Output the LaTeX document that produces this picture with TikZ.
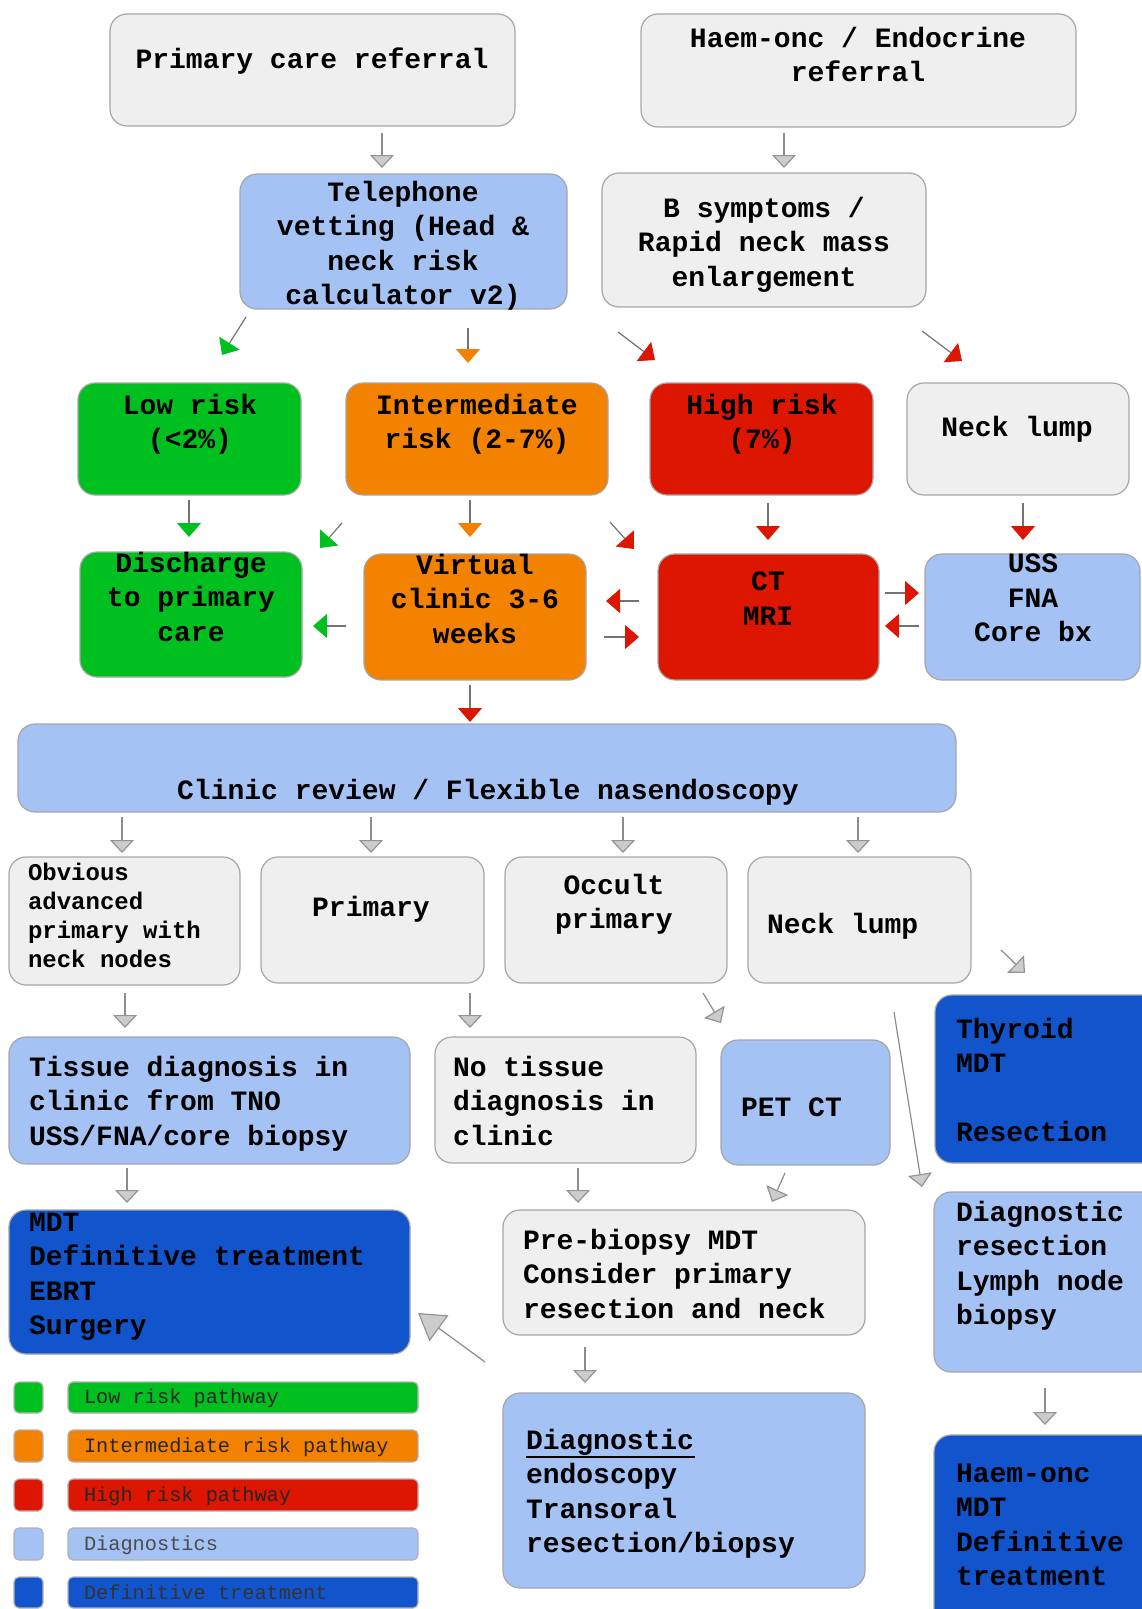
\documentclass[tikz,border=0pt]{standalone}
\usepackage{fontspec}
\setmainfont{Liberation Mono}
\usetikzlibrary{arrows.meta,calc}
\definecolor{cgray}{HTML}{EFEFEF}
\definecolor{cblue}{HTML}{A4C2F4}
\definecolor{cgreen}{HTML}{00C020}
\definecolor{corange}{HTML}{F38200}
\definecolor{cred}{HTML}{DC1600}
\definecolor{cdark}{HTML}{1254CC}
\newcommand\mkbox[6]{\node[bx,#1,minimum width={(#5)-(#3)},minimum height={(#6)-(#4)}] (#2) at ({(#3+#5)/2},{(#4+#6)/2}) {};}
\tikzset{
 bx/.style={draw=black!35, line width=1.2pt, rounded corners=17pt, inner sep=0pt, outer sep=0pt},
 lg/.style={draw=black!30, line width=1.2pt, rounded corners=5pt, inner sep=0pt, outer sep=0pt},
 txt/.style={inner sep=0pt, outer sep=0pt, yshift=-6pt, font=\fontsize{28}{34.5}\selectfont\bfseries, execute at begin node=\strut},
 ctxt/.style={txt, anchor=north, align=center},
 ltxt/.style={txt, anchor=north west, align=left},
 stxt/.style={inner sep=0pt, outer sep=0pt, yshift=-4pt, anchor=north west, align=left, font=\fontsize{24}{29}\selectfont\bfseries, execute at begin node=\strut},
 legt/.style={inner sep=0pt, outer sep=0pt, yshift=-2pt, anchor=west, font=\fontsize{20.3}{24}\selectfont\mdseries, execute at begin node=\strut},
 ga/.style={draw=black!45, line width=1.2pt, -{Triangle[width=24pt,length=13pt,color=black!42,fill=black!20]}},
 gbig/.style={draw=black!45, line width=1.2pt, -{Triangle[width=32pt,length=26pt,color=black!42,fill=black!20]}},
 ra/.style={draw=black!55, line width=1.2pt, -{Triangle[width=24pt,length=14pt,color=cred]}},
 oa/.style={draw=black!55, line width=1.2pt, -{Triangle[width=24pt,length=14pt,color=corange]}},
 ea/.style={draw=black!55, line width=1.2pt, -{Triangle[width=24pt,length=14pt,color=cgreen]}},
}
\begin{document}
\begin{tikzpicture}[x=1pt,y=-1pt]
\useasboundingbox (0,0) rectangle (1142,1609);
\fill[white] (0,0) rectangle (1142,1609);
% boxes
\mkbox{fill=cgray}{pcr}{110}{14}{515}{126}
\mkbox{fill=cgray}{haem}{641}{14}{1076}{127}
\mkbox{fill=cblue}{tel}{240}{174}{567}{309}
\mkbox{fill=cgray}{bsym}{602}{173}{926}{307}
\mkbox{fill=cgreen}{low}{78}{383}{301}{495}
\mkbox{fill=corange}{int}{346}{383}{608}{495}
\mkbox{fill=cred}{high}{650}{383}{873}{495}
\mkbox{fill=cgray}{neckA}{907}{383}{1129}{495}
\mkbox{fill=cgreen}{dis}{80}{552}{302}{677}
\mkbox{fill=corange}{vir}{364}{554}{586}{680}
\mkbox{fill=cred}{ct}{658}{554}{879}{680}
\mkbox{fill=cblue}{uss}{925}{554}{1140}{680}
\mkbox{fill=cblue}{clin}{18}{724}{956}{812}
\mkbox{fill=cgray}{obv}{9}{857}{240}{985}
\mkbox{fill=cgray}{prim}{261}{857}{484}{983}
\mkbox{fill=cgray}{occ}{505}{857}{727}{983}
\mkbox{fill=cgray}{neckB}{748}{857}{971}{983}
\mkbox{fill=cdark}{thy}{935}{995}{1160}{1163}
\mkbox{fill=cblue}{tis}{9}{1037}{410}{1164}
\mkbox{fill=cgray}{notis}{435}{1037}{696}{1163}
\mkbox{fill=cblue}{pet}{721}{1040}{890}{1165}
\mkbox{fill=cdark}{mdt}{9}{1210}{410}{1354}
\mkbox{fill=cgray}{pre}{503}{1210}{865}{1335}
\mkbox{fill=cblue}{dres}{934}{1192}{1160}{1372}
\mkbox{fill=cblue}{dendo}{503}{1393}{865}{1588}
\mkbox{fill=cdark}{hmdt}{934}{1435}{1160}{1630}
% texts
\node[ctxt] (t-pcr) at (312,38) {Primary care referral};
\node[ctxt] (t-haem) at (858,21) {Haem-onc / Endocrine\\referral};
\node[ctxt] (t-tel) at (403,175) {Telephone\\vetting (Head \&\\neck risk\\calculator v2)};
\node[ctxt] (t-bsym) at (764,191) {B symptoms /\\Rapid neck mass\\enlargement};
\node[ctxt] (t-low) at (190,388) {Low risk\\(<2\%)};
\node[ctxt] (t-int) at (477,388) {Intermediate\\risk (2-7\%)};
\node[ctxt] (t-high) at (762,388) {High risk\\(7\%)};
\node[ctxt] (t-neckA) at (1017,406) {Neck lump};
\node[ctxt] (t-dis) at (191,546) {Discharge\\to primary\\care};
\node[ctxt] (t-vir) at (475,548) {Virtual\\clinic 3-6\\weeks};
\node[ctxt] (t-ct) at (768,566) {CT\\MRI};
\node[ctxt] (t-uss) at (1033,548) {USS\\FNA\\Core bx};
\node[ctxt] (t-clin) at (488,769) {Clinic review / Flexible nasendoscopy};
\node[stxt] (t-obv) at (28,859) {Obvious\\advanced\\primary with\\neck nodes};
\node[ctxt] (t-prim) at (371,886) {Primary};
\node[ctxt] (t-occ) at (614,868) {Occult\\primary};
\node[ltxt] (t-neckB) at (767,903) {Neck lump};
\node[ltxt] (t-thy) at (956,1012) {Thyroid\\MDT\\[34.5pt]Resection};
\node[ltxt] (t-tis) at (29,1050) {Tissue diagnosis in\\clinic from TNO\\USS/FNA/core biopsy};
\node[ltxt] (t-notis) at (453,1050) {No tissue\\diagnosis in\\clinic};
\node[ltxt] (t-pet) at (741,1086) {PET CT};
\node[ltxt] (t-mdt) at (29,1207) {MDT\\Definitive treatment\\EBRT\\Surgery};
\node[ltxt] (t-pre) at (523,1223) {Pre-biopsy MDT\\Consider primary\\resection and neck};
\node[ltxt] (t-dres) at (956,1195) {Diagnostic\\resection\\Lymph node\\biopsy};
\node[ltxt] (t-dendo) at (526,1423) {\rlap{\rule[-9pt]{169pt}{2.5pt}}Diagnostic\\endoscopy\\Transoral\\resection/biopsy};
\node[ltxt] (t-hmdt) at (956,1458) {Haem-onc\\MDT\\Definitive\\treatment};
% legend
\mkbox{lg,fill=cgreen}{sq1}{14}{1382}{43}{1413}
\mkbox{lg,fill=corange}{sq2}{14}{1430}{43}{1462}
\mkbox{lg,fill=cred}{sq3}{14}{1479}{43}{1511}
\mkbox{lg,fill=cblue}{sq4}{14}{1528}{43}{1560}
\mkbox{lg,fill=cdark}{sq5}{14}{1577}{43}{1608}
\mkbox{lg,fill=cgreen}{bar1}{68}{1382}{418}{1413}
\mkbox{lg,fill=corange}{bar2}{68}{1430}{418}{1462}
\mkbox{lg,fill=cred}{bar3}{68}{1479}{418}{1511}
\mkbox{lg,fill=cblue}{bar4}{68}{1528}{418}{1560}
\mkbox{lg,fill=cdark}{bar5}{68}{1577}{418}{1608}
\node[legt,text=black!85] (l1) at (84,1397) {Low risk pathway};
\node[legt,text=black!85] (l2) at (84,1446) {Intermediate risk pathway};
\node[legt,text=black!85] (l3) at (84,1495) {High risk pathway};
\node[legt,text=black!70] (l4) at (84,1544) {Diagnostics};
\node[legt,text=black!80] (l5) at (84,1593) {Definitive treatment};
% vertical arrows
\draw[ga, shorten <=7pt, shorten >=6pt] (pcr.south -| 382,0) -- (tel.north -| 382,0);
\draw[ga, shorten <=6pt, shorten >=5pt] (haem.south -| 784,0) -- (bsym.north -| 784,0);
\draw[oa, shorten <=19pt, shorten >=20pt] (tel.south -| 468,0) -- (int.north -| 468,0);
\draw[ea, shorten <=5pt, shorten >=15pt] (low.south -| 189,0) -- (dis.north -| 189,0);
\draw[oa, shorten <=5pt, shorten >=17pt] (int.south -| 470,0) -- (vir.north -| 470,0);
\draw[ra, shorten <=8pt, shorten >=14pt] (high.south -| 768,0) -- (ct.north -| 768,0);
\draw[ra, shorten <=8pt, shorten >=14pt] (neckA.south -| 1023,0) -- (uss.north -| 1023,0);
\draw[ra, shorten <=5pt, shorten >=2pt] (vir.south -| 470,0) -- (clin.north -| 470,0);
\draw[ga, shorten <=5pt, shorten >=4pt] (clin.south -| 122,0) -- (obv.north -| 122,0);
\draw[ga, shorten <=5pt, shorten >=4pt] (clin.south -| 371,0) -- (prim.north -| 371,0);
\draw[ga, shorten <=5pt, shorten >=4pt] (clin.south -| 623,0) -- (occ.north -| 623,0);
\draw[ga, shorten <=5pt, shorten >=4pt] (clin.south -| 858,0) -- (neckB.north -| 858,0);
\draw[ga, shorten <=8pt, shorten >=9pt] (obv.south -| 125,0) -- (tis.north -| 125,0);
\draw[ga, shorten <=10pt, shorten >=9pt] (prim.south -| 470,0) -- (notis.north -| 470,0);
\draw[ga, shorten <=4pt, shorten >=7pt] (tis.south -| 127,0) -- (mdt.north -| 127,0);
\draw[ga, shorten <=5pt, shorten >=7pt] (notis.south -| 578,0) -- (pre.north -| 578,0);
\draw[ga, shorten <=12pt, shorten >=10pt] (pre.south -| 585,0) -- (dendo.north -| 585,0);
\draw[ga, shorten <=16pt, shorten >=10pt] (dres.south -| 1045,0) -- (hmdt.north -| 1045,0);
% horizontal arrows
\draw[ra, shorten <=19pt, shorten >=20pt] (ct.west |- 0,601) -- (vir.east |- 0,601);
\draw[ra, shorten <=18pt, shorten >=19pt] (vir.east |- 0,637) -- (ct.west |- 0,637);
\draw[ea, shorten <=18pt, shorten >=11pt] (vir.west |- 0,626) -- (dis.east |- 0,626);
\draw[ra, shorten <=6pt, shorten >=6pt] (ct.east |- 0,593) -- (uss.west |- 0,593);
\draw[ra, shorten <=6pt, shorten >=6pt] (uss.west |- 0,626) -- (ct.east |- 0,626);
% diagonal arrows
\draw[ea] ($(tel.south west)+(6,8)$) -- ($(low.north west)+(144,-28)$);
\draw[ra] ($(tel.south east)+(51,23)$) -- ($(high.north west)+(5,-23)$);
\draw[ra] ($(bsym.south east)+(-4,24)$) -- ($(neckA.north west)+(55,-22)$);
\draw[ea] ($(int.south west)+(-4,28)$) -- ($(dis.north east)+(18,-4)$);
\draw[ra] ($(int.south east)+(2,27)$) -- ($(ct.north west)+(-24,-5)$);
\draw[ga] ($(neckB.south east)+(30,-33)$) -- ($(thy.north west)+(90,-22)$);
\draw[ga] ($(occ.south east)+(-24,10)$) -- ($(pet.north west)+(0,-17)$);
\draw[ga] ($(neckB.south east)+(-77,29)$) -- ($(dres.north west)+(-12,-5)$);
\draw[ga] ($(pet.south west)+(64,8)$) -- ($(pre.north east)+(-93,-8)$);
\draw[gbig] ($(pre.south west)+(-18,27)$) -- ($(mdt.south east)+(8,-41)$);
\end{tikzpicture}
\end{document}
